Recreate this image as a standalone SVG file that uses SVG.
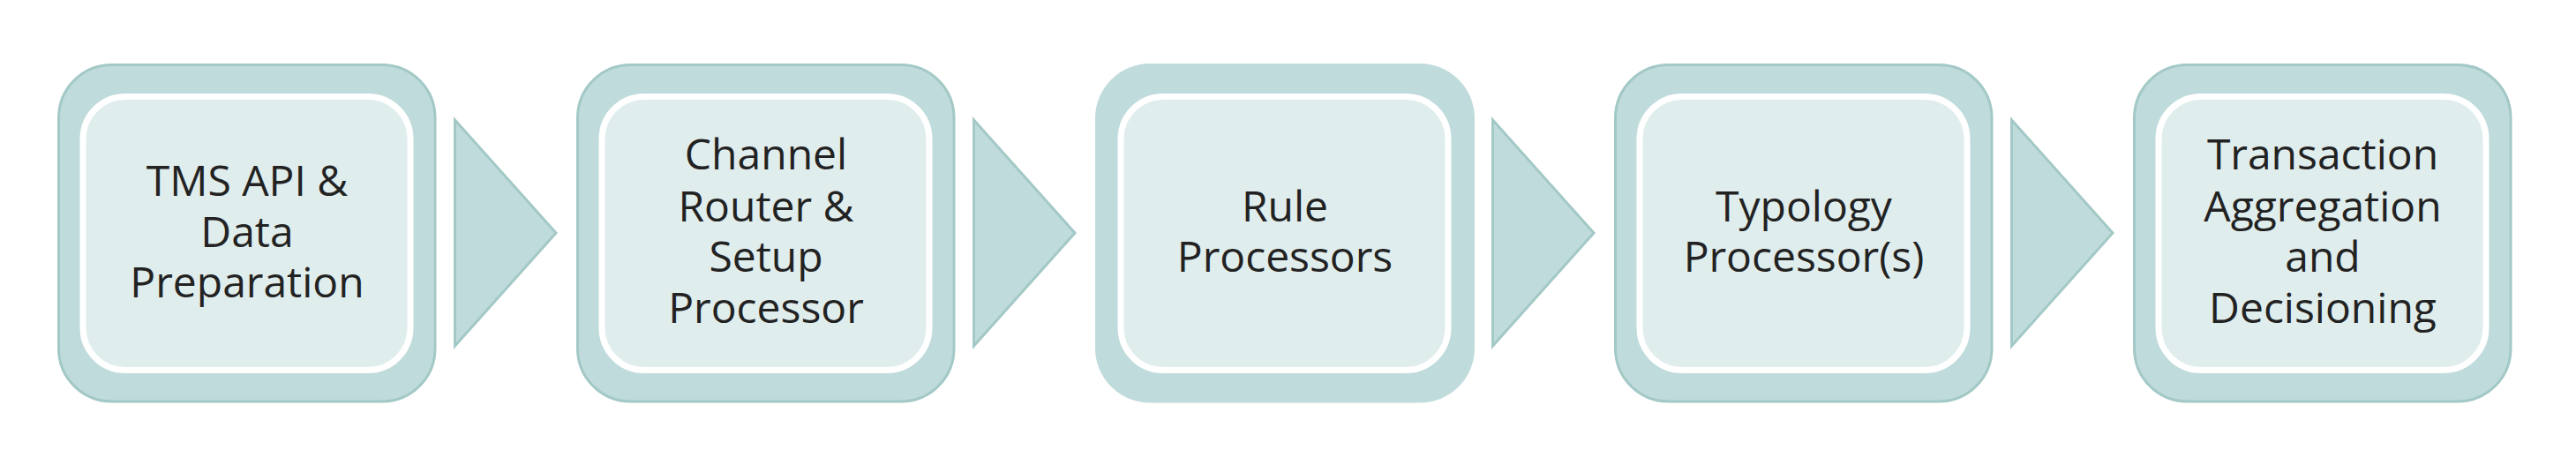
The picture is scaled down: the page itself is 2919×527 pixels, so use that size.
<svg xmlns="http://www.w3.org/2000/svg" width="2919" height="527" viewBox="0 0 2919 527">
<style>
.outer{fill:#c0dbdb;stroke:#a3c9c6;stroke-width:3}
.outer-plain{fill:#c0dbdb}
.inner{fill:#e0eded;stroke:#ffffff;stroke-width:7}
.arrow{fill:#c0dbdb;stroke:#a3c9c6;stroke-width:3;stroke-linejoin:miter}
.label{font-family:"Open Sans","Noto Sans","DejaVu Sans",sans-serif;font-size:48px;fill:#222222;text-anchor:middle}
</style>
<rect width="2919" height="527" fill="#ffffff"/>
<g id="connectors">
<polygon class="arrow" points="515.5,136 630,264 515.5,392"/>
<polygon class="arrow" points="1103.5,136 1218,264 1103.5,392"/>
<polygon class="arrow" points="1691.5,136 1806,264 1691.5,392"/>
<polygon class="arrow" points="2279.5,136 2394,264 2279.5,392"/>
</g>
<g id="node1">
<rect class="outer" x="66.5" y="73.5" width="426.5" height="381.5" rx="60" ry="60"/>
<rect class="inner" x="94" y="109.5" width="371" height="310" rx="48" ry="48"/>
<text class="label" x="280"><tspan x="280" y="222">TMS API &amp;</tspan><tspan x="280" y="279.5">Data</tspan><tspan x="280" y="337">Preparation</tspan></text>
</g>
<g id="node2">
<rect class="outer" x="654.5" y="73.5" width="426.5" height="381.5" rx="60" ry="60"/>
<rect class="inner" x="682" y="109.5" width="371" height="310" rx="48" ry="48"/>
<text class="label" x="868"><tspan x="868" y="192">Channel</tspan><tspan x="868" y="250.5">Router &amp;</tspan><tspan x="868" y="308">Setup</tspan><tspan x="868" y="366">Processor</tspan></text>
</g>
<g id="node3">
<rect class="outer-plain" x="1241" y="72" width="430" height="384.5" rx="62" ry="62"/>
<rect class="inner" x="1270" y="109.5" width="371" height="310" rx="48" ry="48"/>
<text class="label" x="1456"><tspan x="1456" y="250.5">Rule</tspan><tspan x="1456" y="308">Processors</tspan></text>
</g>
<g id="node4">
<rect class="outer" x="1830.5" y="73.5" width="426.5" height="381.5" rx="60" ry="60"/>
<rect class="inner" x="1858" y="109.5" width="371" height="310" rx="48" ry="48"/>
<text class="label" x="2044"><tspan x="2044" y="250.5">Typology</tspan><tspan x="2044" y="308">Processor(s)</tspan></text>
</g>
<g id="node5">
<rect class="outer" x="2418.5" y="73.5" width="426.5" height="381.5" rx="60" ry="60"/>
<rect class="inner" x="2446" y="109.5" width="371" height="310" rx="48" ry="48"/>
<text class="label" x="2632"><tspan x="2632" y="192">Transaction</tspan><tspan x="2632" y="250.5">Aggregation</tspan><tspan x="2632" y="308">and</tspan><tspan x="2632" y="366">Decisioning</tspan></text>
</g>
</svg>
